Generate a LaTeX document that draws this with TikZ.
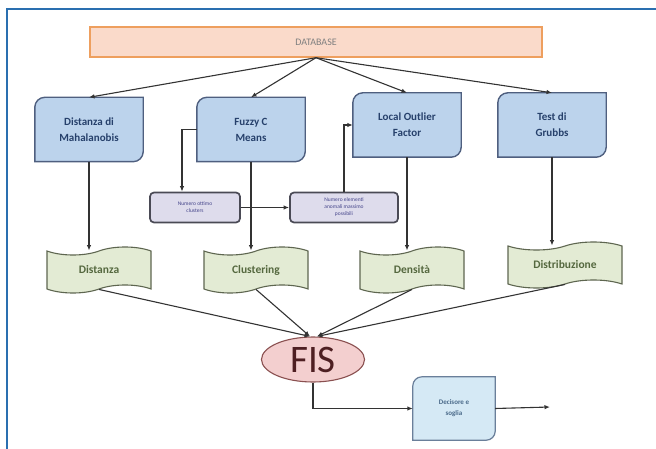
\documentclass[tikz,border=0pt]{standalone}
\usepackage{fontspec}
\setmainfont{Carlito}
\usetikzlibrary{arrows.meta,shapes.geometric,shapes.symbols,backgrounds}

\definecolor{framecol}{HTML}{2A6FB0}
\definecolor{linecol}{HTML}{333333}
\definecolor{dbfill}{HTML}{FADACA}
\definecolor{dbdraw}{HTML}{EE9F5E}
\definecolor{methfill}{HTML}{BCD3EC}
\definecolor{methdraw}{HTML}{4F5F7F}
\definecolor{methtext}{HTML}{26406B}
\definecolor{parfill}{HTML}{DEDCEC}
\definecolor{pardraw}{HTML}{4A4A55}
\definecolor{partext}{HTML}{44448A}
\definecolor{docfill}{HTML}{E3EBD4}
\definecolor{docdraw}{HTML}{5E6650}
\definecolor{doctext}{HTML}{55683F}
\definecolor{fisfill}{HTML}{F3CFCF}
\definecolor{fisdraw}{HTML}{8A5050}
\definecolor{fistext}{HTML}{4E1F22}
\definecolor{decfill}{HTML}{D5E9F5}
\definecolor{decdraw}{HTML}{6A7F9A}
\definecolor{dectext}{HTML}{4A6A8A}

\tikzset{
  conn/.style={draw=linecol,line width=1.1pt,-{Latex[length=5.5pt,width=4.5pt]}},
  dbbox/.style={draw=dbdraw,fill=dbfill,line width=1.4pt,minimum width=452pt,minimum height=30pt,
    inner sep=0pt,font=\fontsize{10}{11}\selectfont,text=gray},
  method/.style={minimum width=108pt,minimum height=64pt,inner sep=0pt,align=center,
    font=\fontsize{11}{16}\selectfont\bfseries,text=methtext},
  methshape/.style={draw=methdraw,fill=methfill,line width=1.4pt},
  param/.style={draw=pardraw,fill=parfill,line width=1.7pt,rounded corners=4pt,minimum height=30pt,
    inner sep=1pt,align=center,font=\fontsize{5.5}{7}\selectfont,text=partext},
  doc/.style={tape,tape bend height=8pt,draw=docdraw,fill=docfill,line width=1.1pt,minimum width=104pt,
    minimum height=46pt,inner sep=0pt,font=\fontsize{11.5}{12}\selectfont\bfseries,text=doctext},
  fisnode/.style={ellipse,draw=fisdraw,fill=fisfill,line width=1.1pt,minimum width=103pt,minimum height=45pt,
    inner sep=0pt,font=\fontsize{39}{39}\selectfont,text=fistext},
  decnode/.style={minimum width=82pt,minimum height=63pt,inner sep=0pt,align=center,
    font=\fontsize{7}{11}\selectfont\bfseries,text=dectext},
  decshape/.style={draw=decdraw,fill=decfill,line width=1.2pt}
}

\begin{document}
\begin{tikzpicture}[x=1pt,y=1pt]
  \useasboundingbox (0,0) rectangle (656,-449);
  \draw[framecol,line width=1.2pt] (7,-449) -- (7,-9) -- (656,-9);

  \node[dbbox] (db) at (316,-42) {DATABASE};

  % methods
  \node[method] (maha) at (89,-129.5) {Distanza di\\Mahalanobis};
  \node[method] (fcm) at (251,-129.5) {Fuzzy C\\Means};
  \node[method] (lof) at (407,-125) {Local Outlier\\Factor};
  \node[method] (grubbs) at (552,-125) {Test di\\Grubbs};

  \node[param,minimum width=90pt] (nott) at (195,-207.5) {Numero ottimo\\clusters};
  \node[param,minimum width=108pt] (nmax) at (344,-207.5) {Numero elementi\\anomali massimo\\possibili};

  % outputs
  \node[doc] (dist) at (99,-270) {Distanza};
  \node[doc] (clus) at (256,-270) {Clustering};
  \node[doc] (dens) at (412,-270) {Densità};
  \node[doc,minimum width=114pt] (distr) at (565,-265) {Distribuzione};

  \node[fisnode] (fis) at (313,-359.5) {FIS};
  \node[decnode] (dec) at (454,-408.5) {Decisore e\\soglia};
  \coordinate (out) at (550,-407);

  \begin{scope}[on background layer]
    \foreach \n in {maha,fcm,lof,grubbs}
      \filldraw[methshape] ([yshift=10pt]\n.south west) -- ([yshift=-10pt]\n.north west)
        arc[start angle=180,end angle=90,radius=10pt] -- (\n.north east)
        -- ([yshift=10pt]\n.south east) arc[start angle=0,end angle=-90,radius=10pt]
        -- (\n.south west) -- cycle;
    \filldraw[decshape] ([yshift=9pt]dec.south west) -- ([yshift=-9pt]dec.north west)
      arc[start angle=180,end angle=90,radius=9pt] -- (dec.north east)
      -- ([yshift=9pt]dec.south east) arc[start angle=0,end angle=-90,radius=9pt]
      -- (dec.south west) -- cycle;
  \end{scope}

  \begin{scope}[every edge/.style={conn}]
    \path (db.south) edge (maha.north);
    \path (db.south) edge (fcm.north);
    \path (db.south) edge (lof.north);
    \path (db.south) edge (grubbs.north);
    \path (maha.south) edge (maha.south |- dist.north);
    \path (fcm.south) edge (fcm.south |- clus.north);
    \path (lof.south) edge (lof.south |- dens.north);
    \path (grubbs.south) edge (grubbs.south |- distr.north);
    \path (nott.east) edge (nmax.west);
    \path (dist.south) edge ([xshift=-3pt]fis.north);
    \path (clus.south) edge ([xshift=-3pt]fis.north);
    \path (dens.south) edge ([xshift=4pt]fis.north);
    \path (distr.south) edge ([xshift=4pt]fis.north);
    \path (dec.east) edge (out);
  \end{scope}
  \draw[conn] (fcm.west) -| ([xshift=-13pt]nott.north);
  \draw[conn] (nmax.north) |- (lof.west);
  \draw[conn] (fis.south) |- (dec.west);
\end{tikzpicture}
\end{document}
